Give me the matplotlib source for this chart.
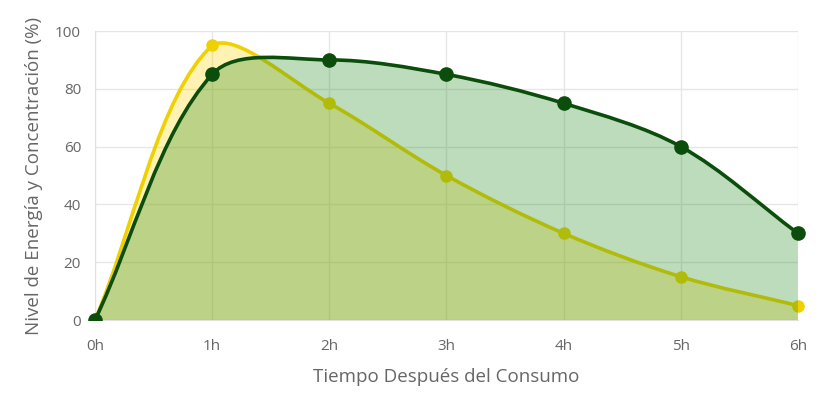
import numpy as np
import matplotlib
matplotlib.use("Agg")
import matplotlib.pyplot as plt
from matplotlib.path import Path
from matplotlib.patches import PathPatch, Rectangle

plt.rcParams['font.family'] = ['Open Sans', 'DejaVu Sans']

labels = ['0h', '1h', '2h', '3h', '4h', '5h', '6h']
energia = [0, 95, 75, 50, 30, 15, 5]
concentracion = [0, 85, 90, 85, 75, 60, 30]

fig = plt.figure(figsize=(8.24, 3.94), dpi=100)
ax = fig.add_axes([0.1153, 0.1878, 0.853, 0.7335])
ax.set_xlim(0, 6)
ax.set_ylim(0, 100)


def spline_path(xs, ys, tension=0.33, close=False):
    # bezier like chart.js: control points in pixel space, capped to the plot area
    pts = ax.transData.transform(np.column_stack([xs, ys]))
    lo = ax.transData.transform((0, 0))
    hi = ax.transData.transform((6, 100))
    n = len(pts)
    cps = []
    for i in range(n):
        prev = pts[max(i - 1, 0)]
        cur = pts[i]
        nxt = pts[min(i + 1, n - 1)]
        d01 = np.hypot(*(cur - prev))
        d12 = np.hypot(*(nxt - cur))
        tot = d01 + d12
        s01 = d01 / tot if tot else 0
        s12 = d12 / tot if tot else 0
        c1 = np.clip(cur - tension * s01 * (nxt - prev), lo, hi)
        c2 = np.clip(cur + tension * s12 * (nxt - prev), lo, hi)
        cps.append((c1, c2))
    verts = [pts[0]]
    codes = [Path.MOVETO]
    for i in range(n - 1):
        verts += [cps[i][1], cps[i + 1][0], pts[i + 1]]
        codes += [Path.CURVE4] * 3
    inv = ax.transData.inverted()
    verts = list(inv.transform(np.array(verts)))
    if close:
        verts += [(xs[-1], 0), (xs[0], 0), (xs[0], 0)]
        codes += [Path.LINETO, Path.LINETO, Path.CLOSEPOLY]
    return Path(verts, codes)


x = np.arange(len(labels))
fig.canvas.draw()

# yellow first, green on top of it
series = [
    (energia, '#f0d000', (1.0, 0.843, 0.0, 0.30), 8.0, 3),
    (concentracion, '#0b4d0b', (0.133, 0.545, 0.133, 0.30), 9.5, 6),
]
for vals, lc, fc, ms, z in series:
    ax.add_patch(PathPatch(spline_path(x, vals, close=True), facecolor=fc,
                           edgecolor='none', zorder=z))
    ax.add_patch(PathPatch(spline_path(x, vals), facecolor='none',
                           edgecolor=lc, lw=2.6, zorder=z + 1))
    pts = ax.plot(x, vals, 'o', ms=ms, color=lc, zorder=z + 2)[0]
    pts.set_clip_path(Rectangle((-0.05, 0), 1.1, 1.2, transform=ax.transAxes))

ax.set_xticks(x)
ax.set_xticklabels(labels)
ax.set_yticks(range(0, 101, 20))
ax.grid(True, color='#e6e6e6', lw=1, zorder=0)
ax.set_axisbelow(True)
for s in ['top', 'right']:
    ax.spines[s].set_visible(False)
for s in ['left', 'bottom']:
    ax.spines[s].set_color('#e0e0e0')
ax.tick_params(length=0, labelsize=11, colors='#666666', pad=14)
ax.tick_params(axis='y', pad=10)
ax.set_xlabel('Tiempo Después del Consumo', fontsize=13.5, color='#666666', labelpad=10)
ax.set_ylabel('Nivel de Energía y Concentración (%)', fontsize=13.5, color='#666666', labelpad=9)

fig.savefig('out.png', dpi=100)
